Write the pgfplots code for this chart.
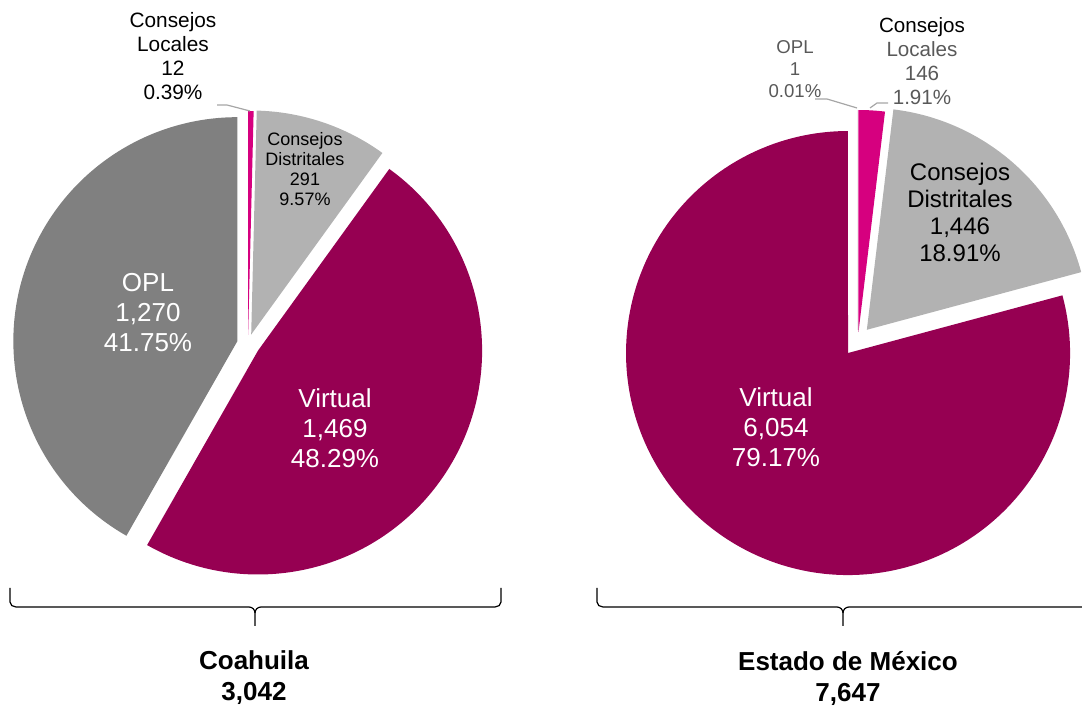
\documentclass[border=0pt]{standalone}
\usepackage{pgfplots}
\pgfplotsset{compat=1.18}
\usepackage{fontspec}
\setmainfont{Liberation Sans}
\definecolor{virt}{RGB}{150,0,82}
\definecolor{loc}{RGB}{214,0,127}
\definecolor{opl}{RGB}{128,128,128}
\definecolor{dist}{RGB}{178,178,178}
\definecolor{lbl}{RGB}{89,89,89}
\definecolor{lead}{RGB}{166,166,166}

% #1 cx, #2 cy, #3 R (axis units), #4 start angle, #5 end angle, #6 explode, #7 colour
\newcommand{\pieslice}[7]{%
  \pgfmathsetmacro\pmid{(#4+#5)/2}%
  \pgfmathsetmacro\vx{#1+#6*cos(\pmid)}%
  \pgfmathsetmacro\vy{#2+#6*sin(\pmid)}%
  \pgfmathsetmacro\rr{#3*0.5}%
  \pgfmathsetmacro\sa{#4}%
  \pgfmathsetmacro\ea{#5}%
  \edef\temp{\noexpand\fill[#7] (axis cs:\vx,\vy) -- ++(\sa:\rr pt) arc[start angle=\sa, end angle=\ea, radius=\rr pt] -- cycle;}%
  \temp}

\begin{document}
\begin{tikzpicture}
% ---- data: Coahuila
\def\cLoc{12}\def\cDis{291}\def\cVir{1469}\def\cOPL{1270}
\pgfmathsetmacro\cTot{\cLoc+\cDis+\cVir+\cOPL}
\pgfmathsetmacro\cA{90}
\pgfmathsetmacro\cB{\cA-360*(\cLoc/\cTot)}
\pgfmathsetmacro\cC{\cB-360*(\cDis/\cTot)}
\pgfmathsetmacro\cD{\cC-360*(\cVir/\cTot)}
\pgfmathsetmacro\cE{\cD-360*(\cOPL/\cTot)}
% ---- data: Estado de Mexico
\def\mLoc{146}\def\mDis{1446}\def\mVir{6054}\def\mOPL{1}
\pgfmathsetmacro\mTot{\mLoc+\mDis+\mVir+\mOPL}
\pgfmathsetmacro\mA{90}
\pgfmathsetmacro\mB{\mA-360*(\mLoc/\mTot)}
\pgfmathsetmacro\mC{\mB-360*(\mDis/\mTot)}
\pgfmathsetmacro\mD{\mC-360*(\mVir/\mTot)}
\pgfmathsetmacro\mE{\mD-360*(\mOPL/\mTot)}
\begin{axis}[
  scale only axis, width=541pt, height=353pt,
  xmin=0, xmax=1082, ymin=0, ymax=706,
  hide axis, clip=false]
% left pie
\pieslice{248}{362}{224}{\cA}{\cB}{9}{loc}
\pieslice{248}{362}{224}{\cB}{\cC}{10}{dist}
\pieslice{248}{362}{224}{\cC}{\cD}{12}{virt}
\pieslice{248}{362}{224}{\cD}{\cE}{11}{opl}
% right pie
\pieslice{858}{366}{222}{\mA}{\mB}{8}{loc}
\pieslice{858}{366}{222}{\mB}{\mC}{13.5}{dist}
\pieslice{858}{366}{222}{\mC}{\mD}{16.4}{virt}
\pieslice{858}{366}{222}{\mD}{\mE}{8}{opl}
% leader lines
\draw[lead, line width=0.6pt] (axis cs:217,601) -- (axis cs:227,601) -- (axis cs:250,595);
\draw[lead, line width=0.6pt] (axis cs:815,607) -- (axis cs:827,607) -- (axis cs:857,598);
\draw[lead, line width=0.6pt] (axis cs:888,603) -- (axis cs:877,603) -- (axis cs:870,598);
% labels left
\node[align=center, font=\fontsize{10.4}{12}\selectfont] at (axis cs:173,650) {Consejos\\Locales\\12\\0.39\%};
\node[align=center, font=\fontsize{9}{10}\selectfont] at (axis cs:305,537) {Consejos\\Distritales\\291\\9.57\%};
\node[align=center, text=white, font=\fontsize{13}{15}\selectfont] at (axis cs:148,393) {OPL\\1,270\\41.75\%};
\node[align=center, text=white, font=\fontsize{13}{15}\selectfont] at (axis cs:335,278) {Virtual\\1,469\\48.29\%};
% labels right
\node[align=center, text=lbl, font=\fontsize{9.3}{11}\selectfont] at (axis cs:795,637) {OPL\\1\\0.01\%};
\node[align=center, text=lbl, font=\fontsize{10.3}{12}\selectfont] at (axis cs:922,645) {{\color{black}Consejos}\\Locales\\146\\1.91\%};
\node[align=center, font=\fontsize{12}{13.5}\selectfont] at (axis cs:960,494) {Consejos\\Distritales\\1,446\\18.91\%};
\node[align=center, text=white, font=\fontsize{13}{15}\selectfont] at (axis cs:776,279) {Virtual\\6,054\\79.17\%};
% braces
\draw[line width=0.6pt] (axis cs:10,118) -- (axis cs:10,104) to[out=-90,in=180] (axis cs:16,99) -- (axis cs:249,99) to[out=0,in=90] (axis cs:255,93) -- (axis cs:255,80);
\draw[line width=0.6pt] (axis cs:255,93) to[out=90,in=180] (axis cs:261,99) -- (axis cs:495,99) to[out=0,in=-90] (axis cs:501,104) -- (axis cs:501,118);
\draw[line width=0.6pt] (axis cs:597,118) -- (axis cs:597,104) to[out=-90,in=180] (axis cs:603,99) -- (axis cs:837,99) to[out=0,in=90] (axis cs:843,93) -- (axis cs:843,80);
\draw[line width=0.6pt] (axis cs:843,93) to[out=90,in=180] (axis cs:849,99) -- (axis cs:1083,99) to[out=0,in=-90] (axis cs:1089,104) -- (axis cs:1089,118);
% totals
\node[align=center, font=\bfseries\fontsize{13}{15.5}\selectfont] at (axis cs:254,28) {Coahuila\\3,042};
\node[align=center, font=\bfseries\fontsize{13}{15.5}\selectfont] at (axis cs:848,28) {Estado de México\\7,647};
\end{axis}
\pgfresetboundingbox
\path (current axis.south west) rectangle (current axis.north east);
\end{tikzpicture}
\end{document}
